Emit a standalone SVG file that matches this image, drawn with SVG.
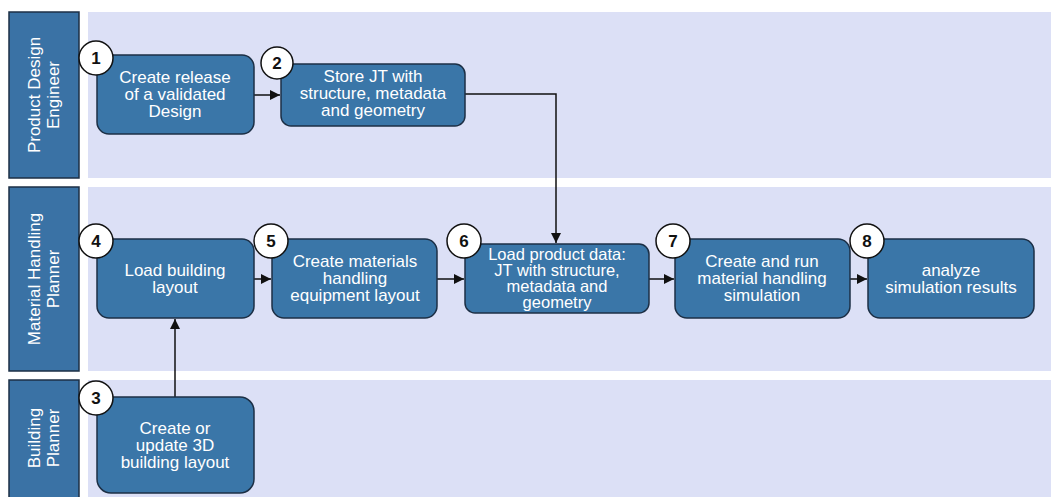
<svg xmlns="http://www.w3.org/2000/svg" width="1051" height="497" viewBox="0 0 1051 497">
  <style>
    .lane { fill: #dce0f6; }
    .head { fill: #3a72a5; stroke: #1c2f45; stroke-width: 1.5; }
    .head-text { fill: #ffffff; font-family: "Liberation Sans", Arial, sans-serif; font-size: 17px; text-anchor: middle; }
    .box { fill: #3a76a8; stroke: #1c2f45; stroke-width: 1.5; }
    .box-text { fill: #ffffff; font-family: "Liberation Sans", Arial, sans-serif; font-size: 17px; text-anchor: middle; }
    .box-text.dense { font-size: 16.5px; }
    .num { fill: #ffffff; stroke: #111111; stroke-width: 1.5; }
    .num-text { fill: #111111; font-family: "Liberation Sans", Arial, sans-serif; font-size: 17px; font-weight: bold; text-anchor: middle; }
    .link { fill: none; stroke: #111111; stroke-width: 1.5; marker-end: url(#arrow); }
  </style>
  <defs>
    <marker id="arrow" viewBox="0 0 10 10" refX="10" refY="5" markerWidth="10" markerHeight="10" markerUnits="userSpaceOnUse" orient="auto">
      <path d="M0,0 L10,5 L0,10 z" fill="#111111"/>
    </marker>
  </defs>

  <rect width="1051" height="497" fill="#ffffff"/>

  <!-- swimlanes -->
  <g id="lane-product-design-engineer">
    <rect class="lane" x="88" y="12" width="963" height="166"/>
    <rect class="head" x="9" y="12" width="70" height="166"/>
    <text class="head-text" transform="translate(44,95) rotate(-90)"><tspan x="0" y="-4">Product Design</tspan><tspan x="0" y="15">Engineer</tspan></text>
  </g>
  <g id="lane-material-handling-planner">
    <rect class="lane" x="88" y="187" width="963" height="184"/>
    <rect class="head" x="9" y="187" width="70" height="184"/>
    <text class="head-text" transform="translate(44,279) rotate(-90)"><tspan x="0" y="-4">Material Handling</tspan><tspan x="0" y="15">Planner</tspan></text>
  </g>
  <g id="lane-building-planner">
    <rect class="lane" x="88" y="380" width="963" height="117"/>
    <rect class="head" x="9" y="380" width="70" height="125"/>
    <text class="head-text" transform="translate(44,438) rotate(-90)"><tspan x="0" y="-4">Building</tspan><tspan x="0" y="15">Planner</tspan></text>
  </g>

  <!-- connectors -->
  <g id="connectors">
    <path class="link" d="M254,95 L280,95"/>
    <path class="link" d="M465,94 L556,94 L556,243"/>
    <path class="link" d="M254,279 L271,279"/>
    <path class="link" d="M437,279 L464,279"/>
    <path class="link" d="M649,279 L674,279"/>
    <path class="link" d="M850,279 L867,279"/>
    <path class="link" d="M175,397 L175,319"/>
  </g>

  <!-- process steps -->
  <g id="step-1">
    <rect class="box" x="97" y="55" width="157" height="79" rx="12"/>
    <text class="box-text"><tspan x="175" y="83">Create release</tspan><tspan x="175" y="100">of a validated</tspan><tspan x="175" y="117">Design</tspan></text>
    <circle class="num" cx="96" cy="58" r="17"/>
    <text class="num-text" x="96" y="64">1</text>
  </g>
  <g id="step-2">
    <rect class="box" x="281" y="64" width="184" height="62" rx="10"/>
    <text class="box-text"><tspan x="373" y="82">Store JT with</tspan><tspan x="373" y="99">structure, metadata</tspan><tspan x="373" y="116">and geometry</tspan></text>
    <circle class="num" cx="277" cy="63" r="16"/>
    <text class="num-text" x="277" y="69">2</text>
  </g>
  <g id="step-3">
    <rect class="box" x="97" y="397" width="157" height="96" rx="14"/>
    <text class="box-text"><tspan x="175" y="434">Create or</tspan><tspan x="175" y="451">update 3D</tspan><tspan x="175" y="468">building layout</tspan></text>
    <circle class="num" cx="96" cy="398" r="17"/>
    <text class="num-text" x="96" y="404">3</text>
  </g>
  <g id="step-4">
    <rect class="box" x="97" y="239" width="157" height="79" rx="12"/>
    <text class="box-text"><tspan x="175" y="276">Load building</tspan><tspan x="175" y="293">layout</tspan></text>
    <circle class="num" cx="96" cy="241" r="17"/>
    <text class="num-text" x="96" y="247">4</text>
  </g>
  <g id="step-5">
    <rect class="box" x="272" y="239" width="165" height="79" rx="12"/>
    <text class="box-text"><tspan x="355" y="267">Create materials</tspan><tspan x="355" y="284">handling</tspan><tspan x="355" y="301">equipment layout</tspan></text>
    <circle class="num" cx="271" cy="241" r="17"/>
    <text class="num-text" x="271" y="247">5</text>
  </g>
  <g id="step-6">
    <rect class="box" x="465" y="244" width="184" height="69" rx="10"/>
    <text class="box-text dense"><tspan x="557" y="260">Load product data:</tspan><tspan x="557" y="276">JT with structure,</tspan><tspan x="557" y="292">metadata and</tspan><tspan x="557" y="308">geometry</tspan></text>
    <circle class="num" cx="464" cy="241" r="17"/>
    <text class="num-text" x="464" y="247">6</text>
  </g>
  <g id="step-7">
    <rect class="box" x="675" y="239" width="175" height="79" rx="12"/>
    <text class="box-text"><tspan x="762" y="267">Create and run</tspan><tspan x="762" y="284">material handling</tspan><tspan x="762" y="301">simulation</tspan></text>
    <circle class="num" cx="673" cy="241" r="17"/>
    <text class="num-text" x="673" y="247">7</text>
  </g>
  <g id="step-8">
    <rect class="box" x="868" y="239" width="166" height="79" rx="12"/>
    <text class="box-text"><tspan x="951" y="276">analyze</tspan><tspan x="951" y="293">simulation results</tspan></text>
    <circle class="num" cx="867" cy="241" r="17"/>
    <text class="num-text" x="867" y="247">8</text>
  </g>
</svg>
